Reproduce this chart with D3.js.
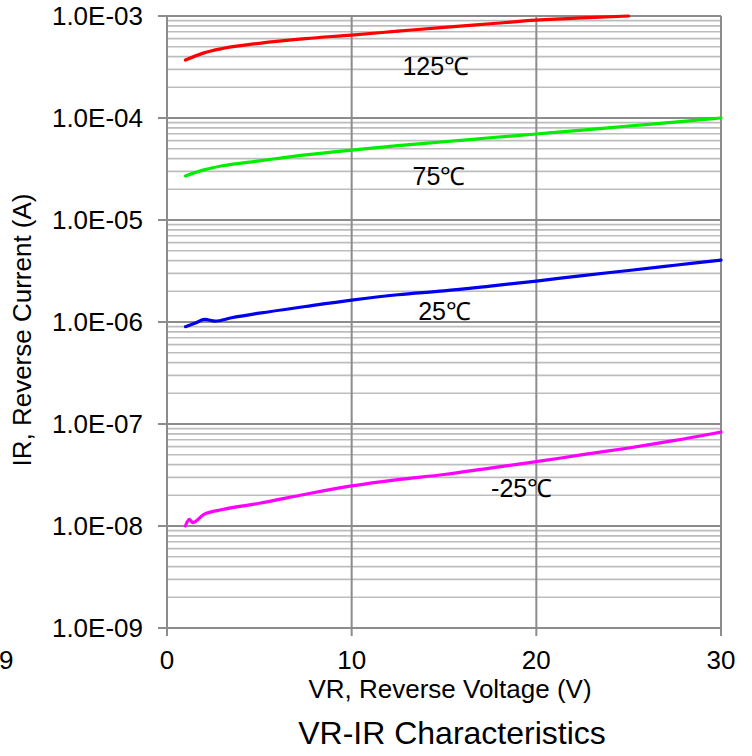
<!DOCTYPE html>
<html><head><meta charset="utf-8">
<script src="https://cdn.jsdelivr.net/npm/d3@7"></script>
<style>body{margin:0;background:#fff}svg{display:block}text{font-family:"Liberation Sans",Arial,sans-serif;fill:#000}</style>
</head><body>
<svg id="c" width="752" height="756"></svg>
<script>
// Data (VR in volts, IR in amps)
const vr125 = [1, 2, 3, 5, 7.5, 10, 12.5, 15, 17.5, 20, 22.5, 25];
const ir125 = [3.7e-4, 4.35e-4, 4.8e-4, 5.4e-4, 6.0e-4, 6.5e-4, 7.1e-4, 7.75e-4, 8.4e-4, 9.1e-4, 9.6e-4, 1.0e-3];
const vr75 = [1, 2, 3, 5, 7.5, 10, 12.5, 15, 17.5, 20, 22.5, 25, 27.5, 30];
const ir75 = [2.7e-5, 3.1e-5, 3.4e-5, 3.8e-5, 4.35e-5, 4.85e-5, 5.35e-5, 5.85e-5, 6.4e-5, 6.97e-5, 7.6e-5, 8.35e-5, 9.1e-5, 1.0e-4];
const vr25 = [1, 1.5, 2.05, 2.6, 3.5, 5, 7.5, 10, 12.5, 15, 17.5, 20, 22.5, 25, 27.5, 30];
const ir25 = [9.0e-7, 9.7e-7, 1.06e-6, 1.02e-6, 1.1e-6, 1.22e-6, 1.42e-6, 1.64e-6, 1.85e-6, 2.02e-6, 2.25e-6, 2.52e-6, 2.85e-6, 3.2e-6, 3.6e-6, 4.05e-6];
const vrm25 = [1, 1.2, 1.4, 2, 3, 5, 7.5, 10, 12.5, 15, 17.5, 20, 22.5, 25, 27.5, 30];
const irm25 = [1.0e-8, 1.16e-8, 1.08e-8, 1.3e-8, 1.45e-8, 1.67e-8, 2.05e-8, 2.47e-8, 2.85e-8, 3.2e-8, 3.7e-8, 4.27e-8, 5.0e-8, 5.82e-8, 6.9e-8, 8.35e-8];
const seriesNames = ["125℃", "75℃", "25℃", "-25℃"];
const xTicks = [0, 10, 20, 30];
const yTicks = [1e-9, 1e-8, 1e-7, 1e-6, 1e-5, 1e-4, 1e-3];
const yTickLabels = ["1.0E-09", "1.0E-08", "1.0E-07", "1.0E-06", "1.0E-05", "1.0E-04", "1.0E-03"];
const xTitle = "VR, Reverse Voltage (V)";
const yTitle = "IR, Reverse Current (A)";
const chartTitle = "VR-IR Characteristics";

const svg = d3.select("#c");
const L = 167, R = 721, T = 16, B = 628;
const x = d3.scaleLinear().domain([0, 30]).range([L, R]);
const y = d3.scaleLog().domain([1e-9, 1e-3]).range([B, T]);

// minor grid
const minors = [];
for (let e = -9; e < -3; e++) for (let m = 2; m <= 9; m++) minors.push(m * Math.pow(10, e));
svg.append("g").selectAll("line").data(minors).join("line")
  .attr("x1", L).attr("x2", R).attr("y1", d => y(d)).attr("y2", d => y(d))
  .attr("stroke", "#bdbdbd").attr("stroke-width", 1.6);
// major horizontal grid
svg.append("g").selectAll("line").data(yTicks).join("line")
  .attr("x1", L - 9).attr("x2", R).attr("y1", d => y(d)).attr("y2", d => y(d))
  .attr("stroke", "#8c8c8c").attr("stroke-width", 2);
// vertical grid
svg.append("g").selectAll("line").data(xTicks).join("line")
  .attr("x1", d => x(d)).attr("x2", d => x(d)).attr("y1", T).attr("y2", B + 8)
  .attr("stroke", "#8c8c8c").attr("stroke-width", 2);

// y tick labels
svg.append("g").selectAll("text").data(yTicks).join("text")
  .attr("x", 143).attr("y", d => y(d) + 9.3).attr("text-anchor", "end")
  .attr("font-size", 26).text((d, i) => yTickLabels[i]);
// x tick labels
svg.append("g").selectAll("text").data(xTicks).join("text")
  .attr("x", d => x(d)).attr("y", 669).attr("text-anchor", "middle")
  .attr("font-size", 26).text(d => d);
svg.append("text").attr("x", -1).attr("y", 669).attr("font-size", 26).text("9");

// curves
const line = d3.line().x(d => x(d[0])).y(d => y(d[1])).curve(d3.curveMonotoneX);
const series = [
  {v: vr125, i: ir125, c: "#ff0000"},
  {v: vr75, i: ir75, c: "#00ee00"},
  {v: vr25, i: ir25, c: "#0000ee"},
  {v: vrm25, i: irm25, c: "#ff00ff"}
];
svg.append("g").selectAll("path").data(series).join("path")
  .attr("d", s => line(s.v.map((v, k) => [v, s.i[k]])))
  .attr("fill", "none").attr("stroke", s => s.c).attr("stroke-width", 3.2)
  .attr("stroke-linecap", "round").attr("stroke-linejoin", "round");

// series labels (data coords of left baseline)
const labelPos = [[12.75, 2.64e-4], [13.3, 2.2e-5], [13.6, 1.05e-6], [17.55, 1.92e-8]];
svg.append("g").selectAll("text").data(seriesNames).join("text")
  .attr("x", (d, i) => x(labelPos[i][0])).attr("y", (d, i) => y(labelPos[i][1]))
  .attr("font-size", 25).text(d => d);

// titles
svg.append("text").attr("x", 450).attr("y", 698).attr("text-anchor", "middle")
  .attr("font-size", 26).text(xTitle);
svg.append("text").attr("x", 452).attr("y", 744).attr("text-anchor", "middle")
  .attr("font-size", 32).text(chartTitle);
svg.append("text").attr("transform", "translate(31,330) rotate(-90)").attr("text-anchor", "middle")
  .attr("font-size", 26).text(yTitle);
</script>
</body></html>
